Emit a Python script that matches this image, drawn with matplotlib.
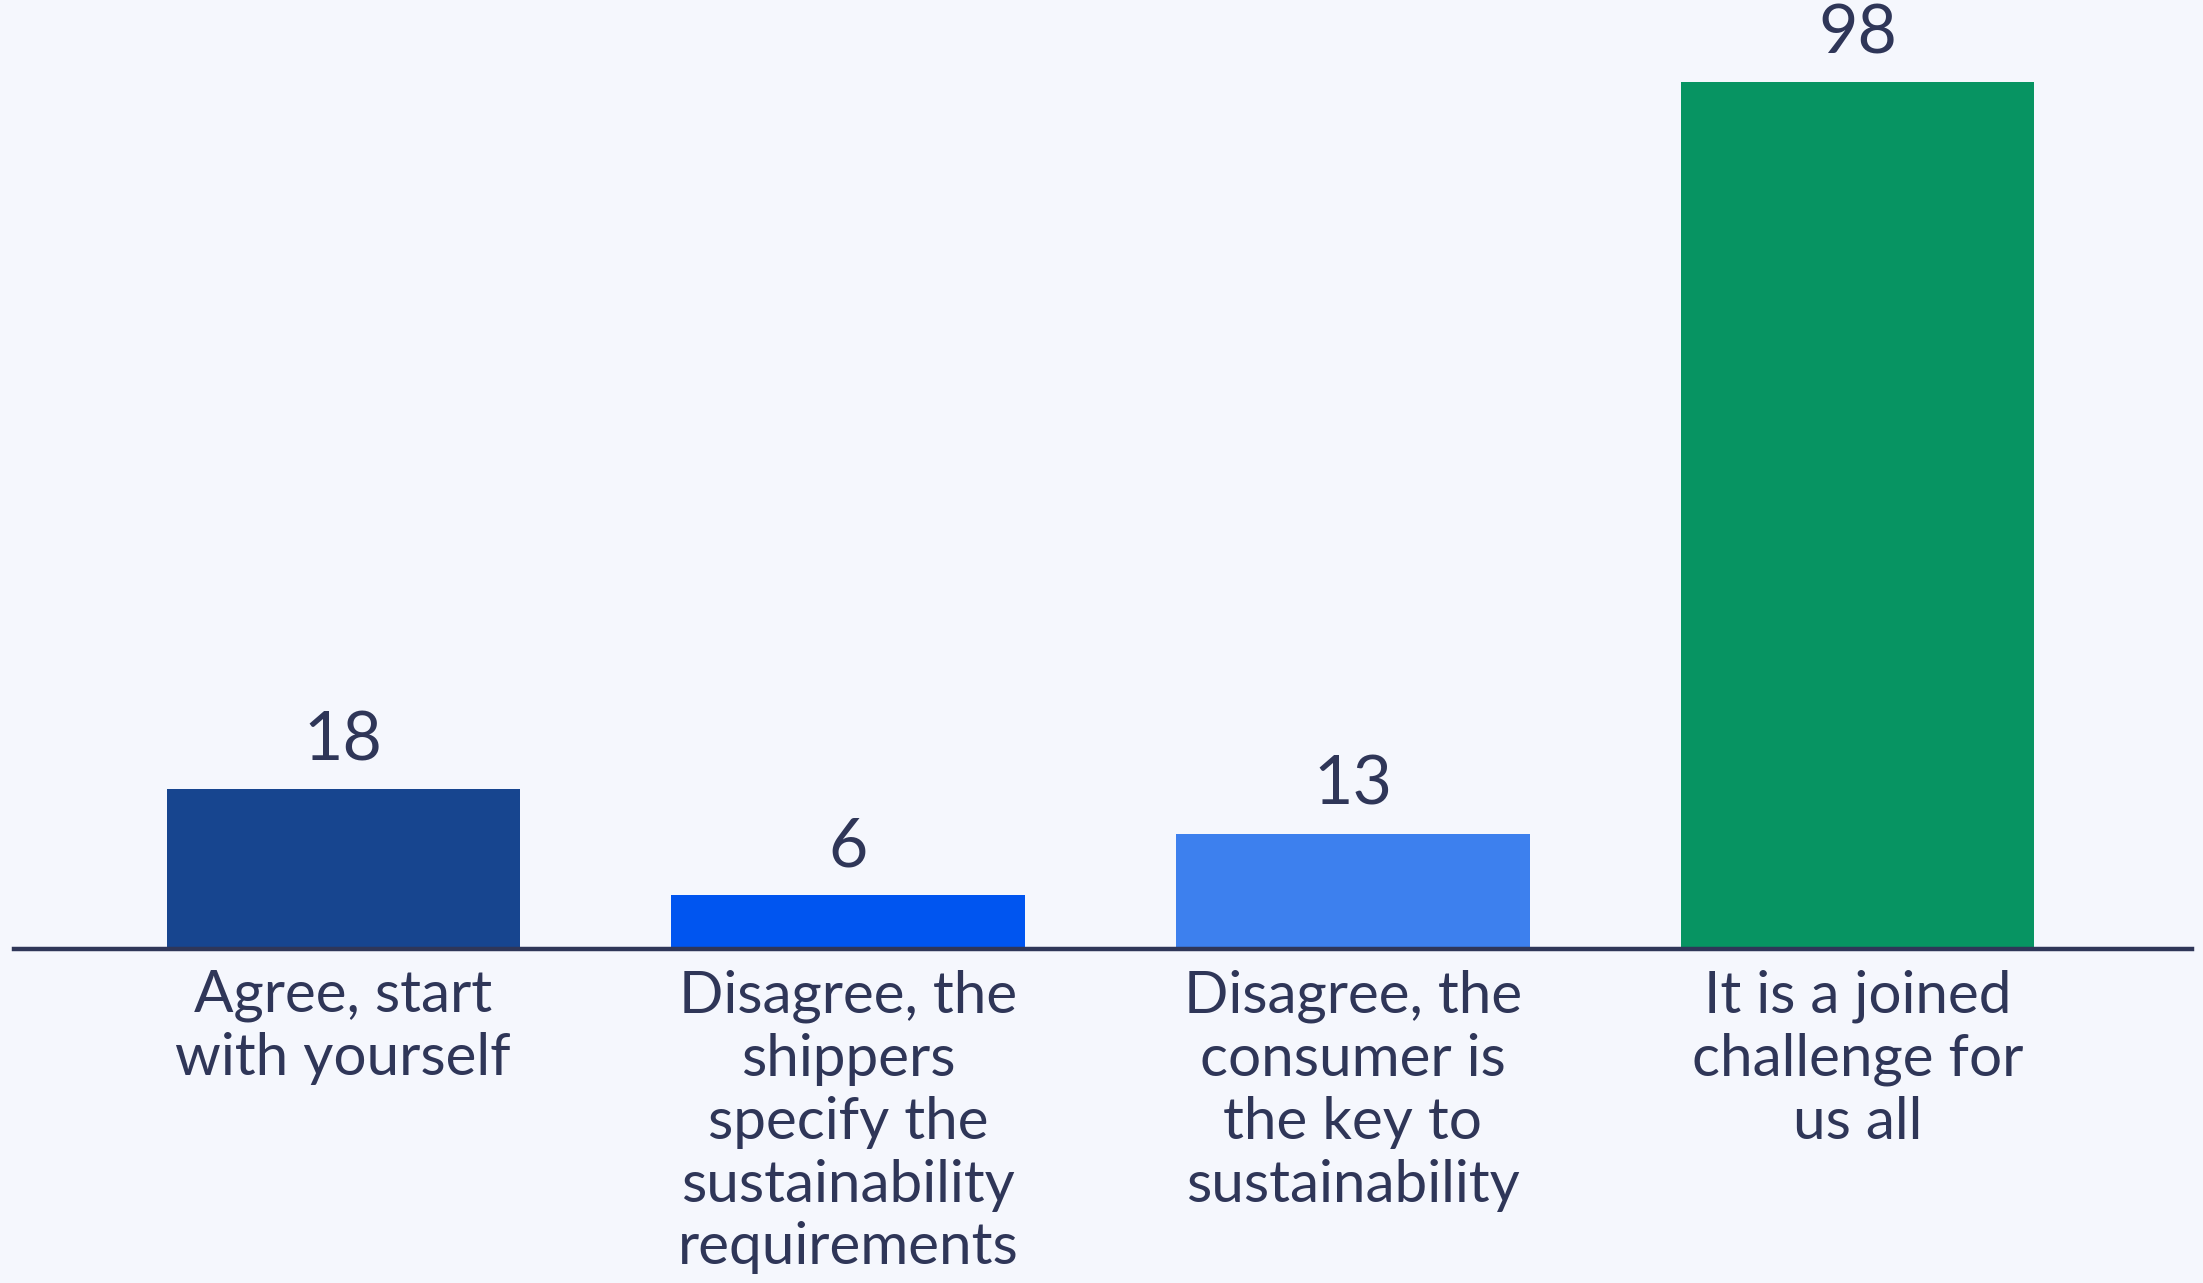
import matplotlib
matplotlib.use('Agg')
import matplotlib.pyplot as plt

# Survey answers and counts
categories = [
    "Agree, start\nwith yourself",
    "Disagree, the\nshippers\nspecify the\nsustainability\nrequirements",
    "Disagree, the\nconsumer is\nthe key to\nsustainability",
    "It is a joined\nchallenge for\nus all",
]
values = [18, 6, 13, 98]
bar_colors = ["#17458f", "#0055f0", "#3d80ee", "#079462"]

BG = "#f5f7fd"
TEXT = "#2f3658"

plt.rcParams['font.family'] = ['Lato', 'DejaVu Sans']

fig = plt.figure(figsize=(22.03, 12.83), dpi=100, facecolor=BG)
ax = fig.add_axes([0.0, 0.2607, 1.0, 0.7393])
ax.set_facecolor(BG)

x = list(range(len(values)))
bars = ax.bar(x, values, width=0.70, color=bar_colors, zorder=2)

ax.set_xlim(-0.680, 3.684)
ax.set_ylim(0, 107.3)

# baseline
ax.axhline(0, xmin=14 / 2203, xmax=2192 / 2203, color=TEXT, lw=3.2, zorder=3,
           clip_on=False)

for rect, v in zip(bars, values):
    ax.annotate(str(v), (rect.get_x() + rect.get_width() / 2, v),
                xytext=(0, 12), textcoords='offset points',
                ha='center', va='bottom', fontsize=49, color=TEXT)

for xi, label in zip(x, categories):
    ax.annotate(label, (xi, 0), xytext=(0, -15), textcoords='offset points',
                ha='center', va='top', fontsize=42, color=TEXT,
                linespacing=1.23, annotation_clip=False)

for s in ax.spines.values():
    s.set_visible(False)
ax.set_xticks([])
ax.set_yticks([])

fig.savefig('out.png', dpi=100, facecolor=BG)
